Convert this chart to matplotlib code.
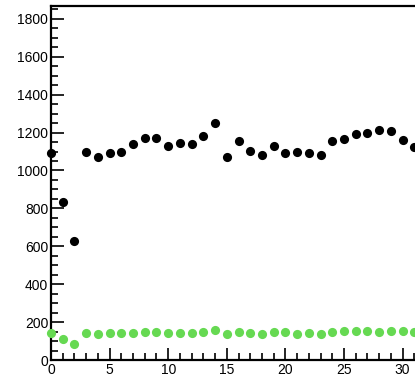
import matplotlib
matplotlib.use('Agg')
import matplotlib.pyplot as plt
from matplotlib.ticker import MultipleLocator

plt.rcParams['font.family'] = ['Liberation Sans', 'DejaVu Sans']

# channel index
x = list(range(32))
# black series
black_y = [1090, 835, 630, 1100, 1070, 1090, 1100, 1140, 1170, 1170,
           1130, 1144, 1139, 1182, 1249, 1070, 1156, 1103, 1082, 1130,
           1091, 1098, 1091, 1082, 1156, 1168, 1191, 1196, 1214, 1209,
           1161, 1123]
# green series
green_y = [144, 111, 84, 141, 137, 144, 144, 144, 148, 148,
           144, 144, 144, 148, 158, 137, 150, 141, 137, 146,
           146, 137, 144, 137, 146, 155, 153, 153, 146, 153,
           153, 150]

fig = plt.figure(figsize=(4.15, 3.74), dpi=100)
# axes runs past the right edge, like the cropped original
ax = fig.add_axes([51 / 415, 14 / 374, 375 / 415, 354 / 374])

ax.plot(x, black_y, 'o', color='black', ms=6.6, mew=0, clip_on=False, zorder=3)
ax.plot(x, green_y, 'o', color='#66d952', ms=6.6, mew=0, clip_on=False, zorder=3)

ax.set_xlim(0, 32)
ax.set_ylim(0, 1868)
ax.xaxis.set_major_locator(MultipleLocator(5))
ax.xaxis.set_minor_locator(MultipleLocator(1))
ax.yaxis.set_major_locator(MultipleLocator(200))
ax.yaxis.set_minor_locator(MultipleLocator(50))

ax.tick_params(which='both', direction='in', width=1.2, labelsize=10, pad=2)
ax.tick_params(which='major', length=9)
ax.tick_params(which='minor', length=5)
for s in ax.spines.values():
    s.set_linewidth(1.6)

fig.savefig('out.png', dpi=100)
